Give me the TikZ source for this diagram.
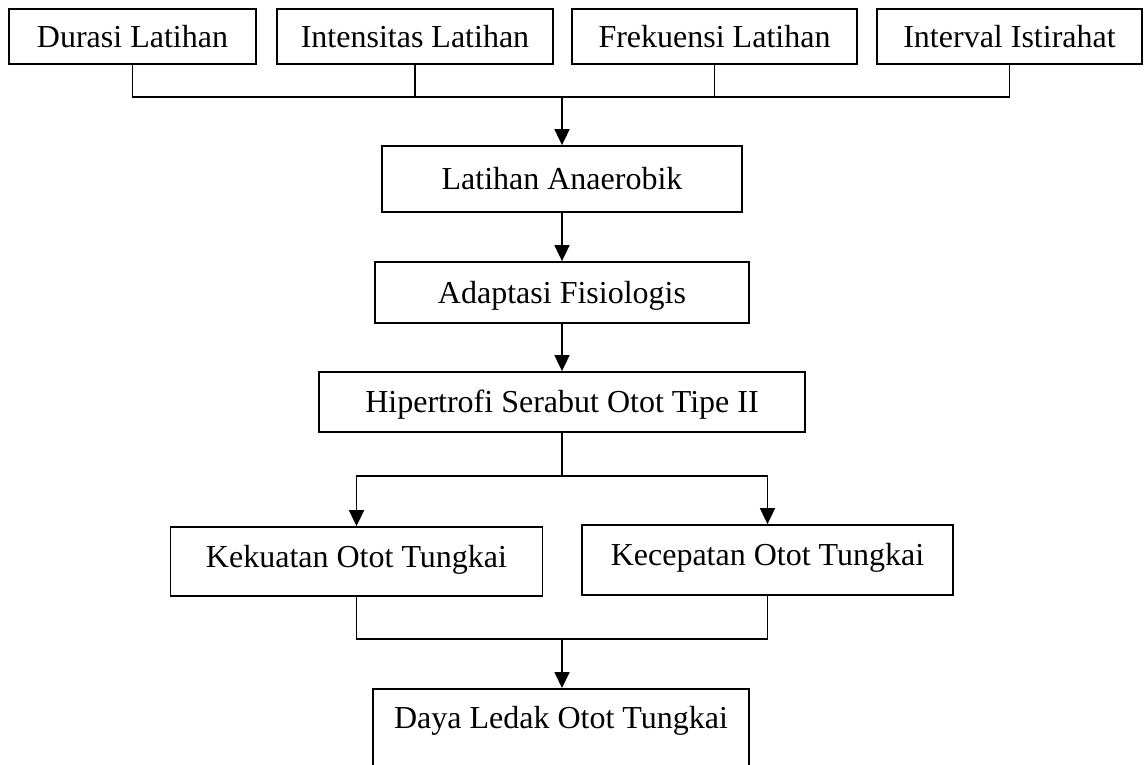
\documentclass[tikz,border=0pt]{standalone}
\usepackage{fontspec}
\setmainfont{Liberation Serif}
\usetikzlibrary{arrows.meta}
\begin{document}
\begin{tikzpicture}[x=1pt,y=-1pt,
  line width=1.8pt,
  box/.style={draw, rectangle, inner sep=0pt, font=\fontsize{32}{38}\selectfont,
    text height=21pt, text depth=0pt},
  lbl/.style={inner sep=0pt, font=\fontsize{32}{38}\selectfont, text height=21pt, text depth=0pt},
  arr/.style={-{Triangle[length=16pt,width=15pt]}},
  conn/.style={line cap=rect}]
\clip (0,0) rectangle (1144,764);
\fill[white] (0,0) rectangle (1144,764);
% top row
\node[box, minimum width=247pt, minimum height=55pt] (durasi) at (132.5,36.7) {Durasi Latihan};
\node[box, minimum width=276pt, minimum height=55pt] (intens) at (415,36.7) {Intensitas Latihan};
\node[box, minimum width=285pt, minimum height=55pt] (frek) at (714.5,36.7) {Frekuensi Latihan};
\node[box, minimum width=265pt, minimum height=55pt] (interval) at (1009.5,36.7) {Interval Istirahat};
% central column
\node[box, minimum width=360pt, minimum height=66pt] (anaer) at (562,179) {Latihan Anaerobik};
\node[box, minimum width=374pt, minimum height=61pt] (adapt) at (562,292.5) {Adaptasi Fisiologis};
\node[box, minimum width=486pt, minimum height=60pt] (hiper) at (562,402) {Hipertrofi Serabut Otot Tipe II};
% split
\node[box, minimum width=372pt, minimum height=69pt, text depth=9pt] (kek) at (356.5,561.5) {Kekuatan Otot Tungkai};
\node[box, minimum width=371pt, minimum height=70pt, text depth=11pt] (kec) at (767.5,560) {Kecepatan Otot Tungkai};
% bottom
\node[draw, rectangle, inner sep=0pt, minimum width=376pt, minimum height=100pt, anchor=north] (daya) at (561,688) {};
\node[lbl] (dayatxt) at (561,717.5) {Daya Ledak Otot Tungkai};
% junction points
\coordinate (jt) at (562,97);
\coordinate (js) at (562,476);
\coordinate (jb) at (562,639);
% connectors
\draw[conn] (durasi.south) |- (jt) -| (interval.south);
\draw (intens.south) -- (intens.south |- jt);
\draw (frek.south) -- (frek.south |- jt);
\draw[arr] (jt) -- (anaer.north);
\draw[arr] (anaer.south) -- (adapt.north);
\draw[arr] (adapt.south) -- (hiper.north);
\draw (hiper.south) -- (js);
\draw[arr] (js) -| (kek.north);
\draw[arr] (js) -| (kec.north);
\draw[conn] (kek.south) |- (jb) -| (kec.south);
\draw[arr] (jb) -- (jb |- daya.north);
\end{tikzpicture}
\end{document}
